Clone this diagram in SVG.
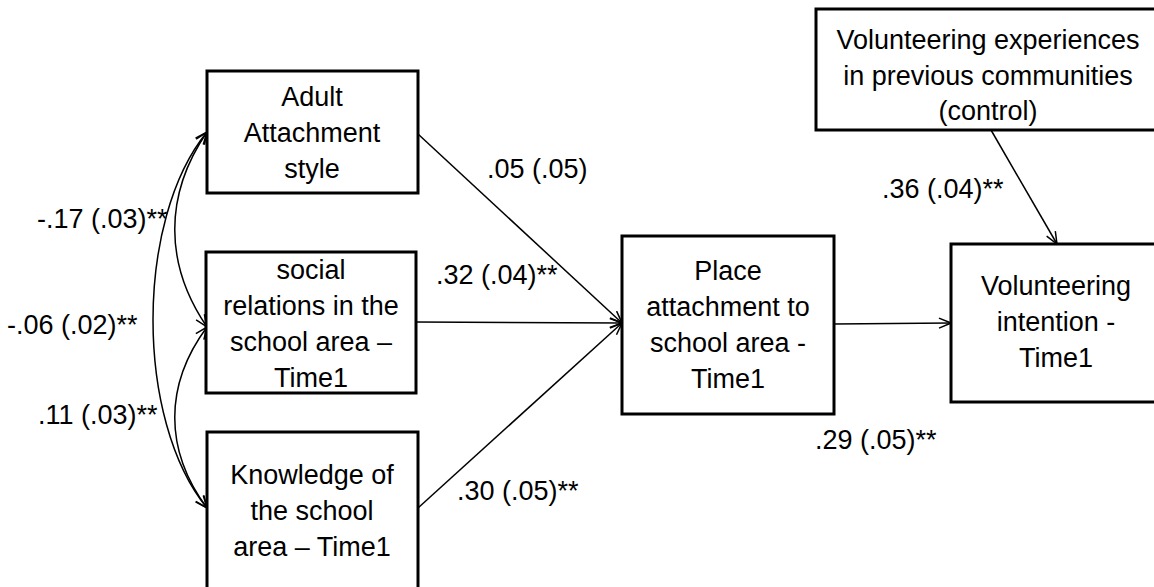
<svg xmlns="http://www.w3.org/2000/svg" width="1154" height="587" viewBox="0 0 1154 587">
<style>
.box{fill:#fff;stroke:#000;stroke-width:3}
.t{font-family:"Liberation Sans",Arial,sans-serif;font-size:27px;fill:#000;text-anchor:middle}
.lb{font-family:"Liberation Sans",Arial,sans-serif;font-size:27px;fill:#000}
.c{fill:none;stroke:#000;stroke-width:1.5}
</style>
<defs>
<marker id="ah" viewBox="0 0 14 12" refX="13" refY="6" markerWidth="14" markerHeight="12" markerUnits="userSpaceOnUse" orient="auto-start-reverse">
<path d="M1,1 L13,6 L1,11" fill="none" stroke="#000" stroke-width="1.5"/>
</marker>
</defs>
<rect width="1154" height="587" fill="#fff"/>
<g id="connectors">
<path class="c" d="M418,134 L622,323" marker-end="url(#ah)"/>
<path class="c" d="M416,322 L622,323" marker-end="url(#ah)"/>
<path class="c" d="M418,508 L622,323" marker-end="url(#ah)"/>
<path class="c" d="M834,324 L951,323" marker-end="url(#ah)"/>
<path class="c" d="M991,130 L1057,244" marker-end="url(#ah)"/>
<path class="c" d="M207,132 C164,195 164,264 207,327" marker-start="url(#ah)" marker-end="url(#ah)"/>
<path class="c" d="M207,327 C164,385 164,450 207,508" marker-start="url(#ah)" marker-end="url(#ah)"/>
<path class="c" d="M207,132 C135,220 135,420 207,508" marker-start="url(#ah)" marker-end="url(#ah)"/>
</g>
<g id="n-adult">
<rect class="box" x="207" y="71" width="211" height="122"/>
<text class="t" x="312" y="106">Adult</text>
<text class="t" x="312" y="142">Attachment</text>
<text class="t" x="312" y="178">style</text>
</g>
<g id="n-social">
<rect class="box" x="206" y="252" width="210" height="141"/>
<text class="t" x="311" y="279">social</text>
<text class="t" x="311" y="315">relations in the</text>
<text class="t" x="311" y="351">school area –</text>
<text class="t" x="311" y="387">Time1</text>
</g>
<g id="n-knowledge">
<rect class="box" x="207" y="432" width="211" height="175"/>
<text class="t" x="312" y="484">Knowledge of</text>
<text class="t" x="312" y="520">the school</text>
<text class="t" x="312" y="556">area – Time1</text>
</g>
<g id="n-place">
<rect class="box" x="622" y="236" width="212" height="178"/>
<text class="t" x="728" y="280">Place</text>
<text class="t" x="728" y="316">attachment to</text>
<text class="t" x="728" y="352">school area -</text>
<text class="t" x="728" y="388">Time1</text>
</g>
<g id="n-intention">
<rect class="box" x="951" y="244" width="212" height="158"/>
<text class="t" x="1056" y="295">Volunteering</text>
<text class="t" x="1056" y="331">intention -</text>
<text class="t" x="1056" y="367">Time1</text>
</g>
<g id="n-experiences">
<rect class="box" x="816" y="9" width="345" height="121"/>
<text class="t" x="988" y="49">Volunteering experiences</text>
<text class="t" x="988" y="85">in previous communities</text>
<text class="t" x="988" y="120">(control)</text>
</g>
<g id="labels">
<text class="lb" x="37" y="228">-.17 (.03)**</text>
<text class="lb" x="7" y="334">-.06 (.02)**</text>
<text class="lb" x="38" y="424">.11 (.03)**</text>
<text class="lb" x="487" y="178">.05 (.05)</text>
<text class="lb" x="436" y="284">.32 (.04)**</text>
<text class="lb" x="457" y="500">.30 (.05)**</text>
<text class="lb" x="815" y="449">.29 (.05)**</text>
<text class="lb" x="882" y="198">.36 (.04)**</text>
</g>
</svg>
